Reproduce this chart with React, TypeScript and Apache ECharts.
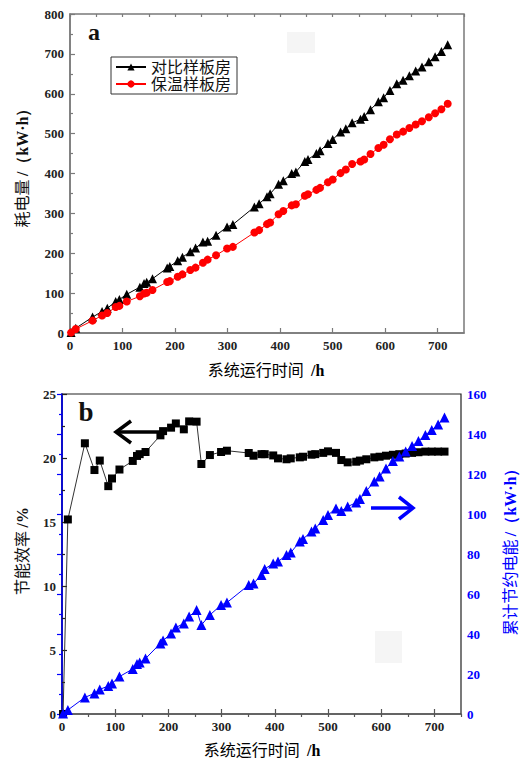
import React, { useEffect, useRef } from 'react';
import * as echarts from 'echarts';

// operating time (h)
const hours = [2, 11, 43, 61, 71, 87, 94, 108, 133, 141, 146, 157, 185, 190, 205, 214, 229, 239, 253, 262, 278, 299, 310, 351, 360, 375, 381, 397, 406, 422, 430, 447, 453, 469, 476, 491, 500, 515, 525, 537, 553, 560, 572, 587, 597, 609, 622, 634, 646, 658, 670, 683, 695, 707, 719];
// panel a: electricity consumption (kW·h)
const contrastRoom = [1, 12, 40, 54, 62, 79, 84, 97, 115, 124, 127, 136, 163, 167, 181, 190, 204, 213, 228, 230, 245, 266, 272, 316, 324, 342, 349, 373, 382, 400, 404, 430, 435, 450, 457, 475, 485, 504, 512, 527, 536, 543, 560, 580, 590, 608, 625, 634, 645, 657, 667, 680, 693, 706, 723];
const insulatedRoom = [1, 10, 31, 44, 50, 65, 68, 79, 92, 99, 101, 108, 128, 130, 141, 147, 158, 164, 176, 184, 195, 212, 216, 252, 258, 273, 277, 298, 306, 320, 323, 344, 348, 359, 364, 378, 385, 401, 410, 424, 430, 435, 449, 464, 472, 486, 498, 505, 514, 523, 531, 541, 551, 561, 575];
// panel b: energy saving rate (%) and cumulative saved energy (kW·h)
const savingRate = [0, 15.2, 21.15, 19.06, 19.8, 17.8, 18.4, 19.1, 19.77, 20.16, 20.3, 20.47, 21.77, 22.1, 22.37, 22.7, 22.24, 22.86, 22.84, 19.53, 20.23, 20.47, 20.57, 20.39, 20.18, 20.3, 20.3, 20.2, 19.97, 19.9, 19.97, 20.05, 20.1, 20.26, 20.3, 20.4, 20.52, 20.4, 19.84, 19.66, 19.71, 19.8, 19.9, 20.05, 20.1, 20.18, 20.25, 20.3, 20.35, 20.4, 20.45, 20.5, 20.5, 20.5, 20.5];
const savedEnergy = [0.3, 2, 8.3, 10.3, 12.3, 14, 15.3, 18.7, 22.5, 25, 25.7, 27.7, 35.3, 36.7, 40.3, 43.2, 45.3, 48.7, 52, 44.5, 49.5, 54.5, 55.7, 64.5, 65.3, 69.5, 72.5, 75.3, 76.2, 79.5, 80.7, 86.2, 87.5, 91.2, 92.8, 97, 99.5, 102.8, 101.5, 103.7, 105.7, 107.5, 111.5, 116.2, 118.7, 122.8, 126.5, 128.7, 131.2, 134, 136.5, 139.5, 142, 144.8, 148.3];

const seriesNames = ['对比样板房', '保温样板房'];

const SERIF = "'Liberation Serif', 'Times New Roman', serif";
const CJK = "'Liberation Serif', 'Noto Sans CJK SC', serif";
const BLUE = '#0000ff';
const GRAY = '#7a7a7a';

export default function App() {
  const ref = useRef<HTMLDivElement>(null);
  useEffect(() => {
    const chart = echarts.init(ref.current!, null, { renderer: 'svg' });
    const pair = (ys: number[]) => hours.map((t, i) => [t, ys[i]]);
    const lbl = (color: string) => ({ fontFamily: SERIF, fontWeight: 'bold', fontSize: 13, color, margin: 6 });

    const mainX = (gridIndex: number, lineColor: string) => ({
      type: 'value', gridIndex, min: 0, max: 750, interval: 100,
      axisLine: { show: true, lineStyle: { color: lineColor, width: 1.5 } },
      axisTick: { show: true, inside: true, length: 5, lineStyle: { color: lineColor, width: 1.2 } },
      axisLabel: { ...lbl('#222'), showMaxLabel: false },
      splitLine: { show: false },
    });
    const minorX = (gridIndex: number, lineColor: string) => ({
      type: 'value', gridIndex, min: 0, max: 750, interval: 50,
      axisLine: { show: false },
      axisTick: { show: true, inside: true, length: 3, lineStyle: { color: lineColor, width: 1.2 } },
      axisLabel: { show: false },
      splitLine: { show: false },
    });
    const yAx = (gridIndex: number, max: number, interval: number, color: string, position: string) => ({
      type: 'value', gridIndex, min: 0, max, interval, position,
      axisLine: { show: true, lineStyle: { color, width: 1.5 } },
      axisTick: { show: true, inside: true, length: 5, lineStyle: { color, width: 1.2 } },
      minorTick: { show: true, splitNumber: 2, length: 3, lineStyle: { color, width: 1.2 } },
      axisLabel: lbl(color === GRAY ? '#222' : color),
      splitLine: { show: false },
      minorSplitLine: { show: false },
    });

    const rotText = (x: number, y: number, text: string, rich: any, color: string) => ({
      type: 'text', x, y, rotation: Math.PI / 2,
      style: { text, rich, fill: color, align: 'center', verticalAlign: 'middle', textAlign: 'center', textVerticalAlign: 'middle' },
    });
    const richFor = (color: string) => ({
      c: { fontFamily: CJK, fontSize: 16, fontWeight: 'normal', color },
      e: { fontFamily: SERIF, fontSize: 16, fontWeight: 'bold', color },
    });

    const option: any = {
      animation: false,
      backgroundColor: '#ffffff',
      grid: [
        { left: 70, top: 14, width: 394, height: 319, show: true, borderColor: GRAY, borderWidth: 1.5 },
        { left: 62, top: 394, width: 399, height: 320, show: true, borderColor: '#222', borderWidth: 1.2 },
      ],
      xAxis: [mainX(0, GRAY), mainX(1, '#555'), minorX(0, GRAY), minorX(1, '#555')],
      yAxis: [
        yAx(0, 800, 100, GRAY, 'left'),
        yAx(1, 25, 5, '#222', 'left'),
        yAx(1, 160, 20, BLUE, 'right'),
      ],
      legend: {
        data: seriesNames,
        orient: 'vertical', left: 111, top: 57,
        borderColor: '#333', borderWidth: 1, padding: [2, 6, 2, 4], itemGap: 1,
        itemWidth: 30, itemHeight: 9,
        textStyle: { fontFamily: CJK, fontSize: 16, color: '#111' },
      },
      series: [
        {
          name: seriesNames[0], type: 'line', xAxisIndex: 0, yAxisIndex: 0, data: pair(contrastRoom),
          symbol: 'triangle', symbolSize: 9, itemStyle: { color: '#000' }, lineStyle: { color: '#000', width: 1 },
        },
        {
          name: seriesNames[1], type: 'line', xAxisIndex: 0, yAxisIndex: 0, data: pair(insulatedRoom),
          symbol: 'circle', symbolSize: 8, itemStyle: { color: '#ff0000' }, lineStyle: { color: '#ff0000', width: 1 },
        },
        {
          name: '节能效率', type: 'line', xAxisIndex: 1, yAxisIndex: 1, data: pair(savingRate),
          symbol: 'rect', symbolSize: 8, itemStyle: { color: '#000' }, lineStyle: { color: '#333', width: 1 },
        },
        {
          name: '累计节约电能', type: 'line', xAxisIndex: 1, yAxisIndex: 2, data: pair(savedEnergy),
          symbol: 'triangle', symbolSize: 10, itemStyle: { color: BLUE }, lineStyle: { color: BLUE, width: 1 },
        },
      ],
      graphic: [
        { type: 'rect', shape: { x: 287, y: 32, width: 28, height: 21 }, style: { fill: '#f5f5f5' }, z: -1 },
        { type: 'rect', shape: { x: 375, y: 631, width: 27, height: 32 }, style: { fill: '#f5f5f5' }, z: -1 },
        { type: 'text', x: 94, y: 32, style: { text: 'a', font: `bold 24px ${SERIF}`, fill: '#111', align: 'center', verticalAlign: 'middle', textAlign: 'center', textVerticalAlign: 'middle' } },
        { type: 'text', x: 86, y: 412, style: { text: 'b', font: `bold 27px ${SERIF}`, fill: '#111', align: 'center', verticalAlign: 'middle', textAlign: 'center', textVerticalAlign: 'middle' } },
        // axis names
        { type: 'text', x: 266, y: 370, style: { text: '{c|系统运行时间} {e| /h}', rich: richFor('#111'), align: 'center', verticalAlign: 'middle', textAlign: 'center', textVerticalAlign: 'middle' } },
        { type: 'text', x: 262, y: 750, style: { text: '{c|系统运行时间} {e| /h}', rich: richFor('#111'), align: 'center', verticalAlign: 'middle', textAlign: 'center', textVerticalAlign: 'middle' } },
        rotText(22, 164, '{c|耗电量} {e|/（kW·h）}', richFor('#111'), '#111'),
        rotText(22, 551, '{c|节能效率} {e|/%}', richFor('#111'), '#111'),
        rotText(510, 548, '{c|累计节约电能} {e|/（kW·h）}', richFor(BLUE), BLUE),
        // arrows
        { type: 'polyline', shape: { points: [[163, 432], [118, 432]] }, style: { stroke: '#000', lineWidth: 3.5, fill: 'none' } },
        { type: 'polyline', shape: { points: [[131, 421], [116, 432], [131, 443]] }, style: { stroke: '#000', lineWidth: 3.5, fill: 'none' } },
        { type: 'polyline', shape: { points: [[371, 508], [411, 508]] }, style: { stroke: BLUE, lineWidth: 3.5, fill: 'none' } },
        { type: 'polyline', shape: { points: [[399, 497], [413, 508], [399, 519]] }, style: { stroke: BLUE, lineWidth: 3.5, fill: 'none' } },
      ],
    };
    chart.setOption(option);
    return () => chart.dispose();
  }, []);
  return <div ref={ref} style={{ position: 'absolute', left: 0, top: 0, width: 529, height: 761, background: '#fff' }} />;
}
